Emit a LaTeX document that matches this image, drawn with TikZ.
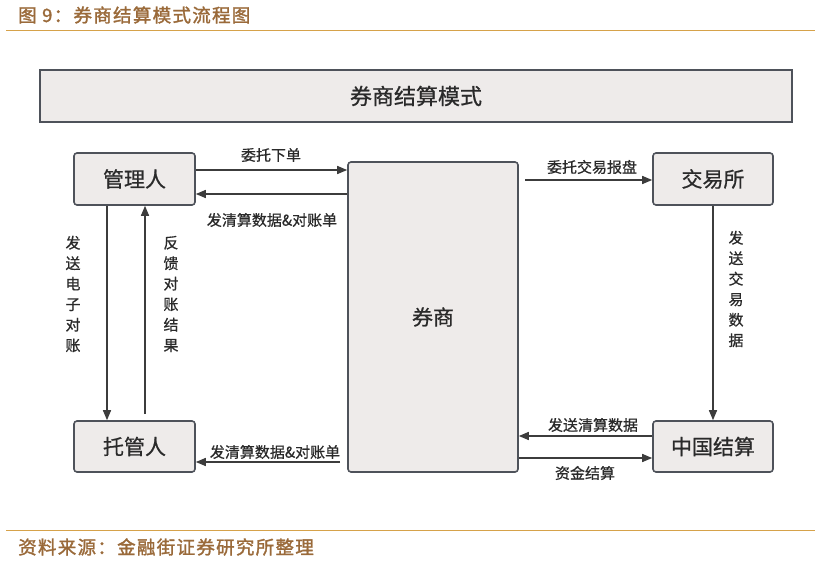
\documentclass[tikz,border=0pt]{standalone}
\usepackage{fontspec}
\setmainfont{Noto Sans CJK SC}
\newfontfamily\hdrfont{Noto Sans CJK SC}[FakeBold=1.6,LetterSpace=7]
\newfontfamily\medfont{Noto Sans CJK SC}[FakeBold=0.7]
\usetikzlibrary{arrows.meta}
\definecolor{hdr}{HTML}{9A6A3A}
\definecolor{gold}{HTML}{D6A24A}
\definecolor{boxfill}{HTML}{EEEBEA}
\definecolor{boxline}{HTML}{4E525A}
\definecolor{arr}{HTML}{3C3C3C}
\definecolor{txt}{HTML}{2A2A2A}
\tikzset{
  ent/.style={draw=boxline, line width=1.6pt, fill=boxfill, rounded corners=3pt,
    font=\medfont\fontsize{21}{21}\selectfont, text=txt, inner sep=0pt},
  flow/.style={draw=arr, line width=1.4pt, -{Triangle[length=10pt,width=8pt]}},
  lbl/.style={font=\medfont\fontsize{15}{15}\selectfont, text=txt, inner sep=0pt},
  vlbl/.style={font=\medfont\fontsize{15}{20.5}\selectfont, text=txt, inner sep=0pt, align=center},
  hdrtext/.style={anchor=west, text=hdr, font=\hdrfont\fontsize{18.5}{18.5}\selectfont, inner sep=0pt},
}
\begin{document}
\begin{tikzpicture}[x=1pt,y=-1pt]
\useasboundingbox (0,0) rectangle (820,562);
% header and footer
\node[hdrtext] (title) at (18,15) {图 9：券商结算模式流程图};
\draw[gold, line width=1pt] (6,30) -- (815,30);
\draw[gold, line width=1pt] (6,530) -- (815,530);
\node[hdrtext] (src) at (18,547) {资料来源：金融街证券研究所整理};
% banner
\node[draw=boxline, line width=1.8pt, fill=boxfill, minimum width=752pt, minimum height=52pt,
  font=\medfont\fontsize{22}{22}\selectfont, text=txt, inner sep=0pt] (banner) at (416,96) {券商结算模式};
% entities
\node[ent, minimum width=121pt, minimum height=52pt] (mgr) at (134.5,179) {管理人};
\node[ent, minimum width=121pt, minimum height=51pt] (cust) at (134.5,446.5) {托管人};
\node[ent, minimum width=170pt, minimum height=310pt] (broker) at (433,317) {券商};
\node[ent, minimum width=120pt, minimum height=52pt] (exch) at (713,179) {交易所};
\node[ent, minimum width=120pt, minimum height=51pt] (csdc) at (713,446.5) {中国结算};
% coordinates
\coordinate (b1) at (broker.west |- 0,170);
\coordinate (b2) at (broker.west |- 0,194);
\coordinate (b3) at (525,180);
\coordinate (b4) at (broker.east |- 0,436);
\coordinate (b5) at (broker.east |- 0,458);
\coordinate (b6) at (340,462);
\coordinate (m1) at (mgr.east |- 0,170);
\coordinate (m2) at (mgr.east |- 0,194);
\coordinate (e1) at (exch.west |- 0,180);
\coordinate (c1) at (csdc.west |- 0,436);
\coordinate (c2) at (csdc.west |- 0,458);
\coordinate (t1) at (cust.east |- 0,462);
\coordinate (m3) at (107,0 |- mgr.south);
\coordinate (t3) at (107,0 |- cust.north);
\coordinate (m4) at (145,0 |- mgr.south);
\coordinate (t4) at (145,414);
% arrows
\draw[flow] (m1) -- (b1);
\draw[flow] (b2) -- (m2);
\draw[flow] (b3) -- (e1);
\draw[flow] (exch.south) -- (csdc.north);
\draw[flow] (c1) -- (b4);
\draw[flow] (b5) -- (c2);
\draw[flow] (b6) -- (t1);
\draw[flow] (m3) -- (t3);
\draw[flow] (t4) -- (m4);
% labels
\node[lbl] (l1) at (271,155) {委托下单};
\node[lbl] (l2) at (272,220) {发清算数据\&对账单};
\node[lbl] (l3) at (592,167) {委托交易报盘};
\node[lbl] (l4) at (593,425) {发送清算数据};
\node[lbl] (l5) at (585,473) {资金结算};
\node[lbl] (l6) at (275,452) {发清算数据\&对账单};
\node[vlbl] (v1) at (73,294) {发\\送\\电\\子\\对\\账};
\node[vlbl] (v2) at (171,294) {反\\馈\\对\\账\\结\\果};
\node[vlbl] (v3) at (736,289) {发\\送\\交\\易\\数\\据};
\end{tikzpicture}
\end{document}
